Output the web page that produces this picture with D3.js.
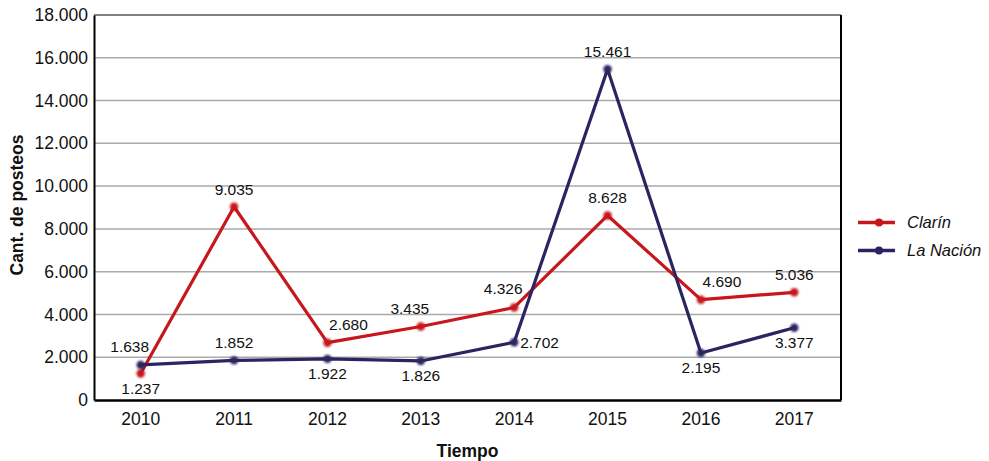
<!DOCTYPE html>
<html>
<head>
<meta charset="utf-8">
<script src="https://cdn.jsdelivr.net/npm/d3@7"></script>
<style>
  html, body { margin: 0; padding: 0; background: #fff; }
  svg { display: block; font-family: "Liberation Sans", Arial, sans-serif; }
</style>
</head>
<body>
<svg id="chart" width="989" height="461"></svg>
<script>
// Posts per year for each newspaper
const years = ["2010", "2011", "2012", "2013", "2014", "2015", "2016", "2017"];
const clarin = [1237, 9035, 2680, 3435, 4326, 8628, 4690, 5036];
const laNacion = [1638, 1852, 1922, 1826, 2702, 15461, 2195, 3377];
const yTicks = [0, 2000, 4000, 6000, 8000, 10000, 12000, 14000, 16000, 18000];
// Label placement codes: "a" above, "al"/"ar" above shifted left/right, "b" below, "r" right
const clarinLabelPos = ["b", "a", "ar", "al", "al", "a", "ar", "a"];
const laNacionLabelPos = ["al", "a", "b", "b", "r", "a", "b", "b"];

const series = [
  { name: "Clarín", values: clarin, pos: clarinLabelPos, color: "#c8161d" },
  { name: "La Nación", values: laNacion, pos: laNacionLabelPos, color: "#2a2560" }
];

const svg = d3.select("#chart");
const margin = { left: 94, right: 148, top: 15, bottom: 61 };
const W = 989, H = 461;

const x = d3.scaleBand().domain(years).range([margin.left, W - margin.right]);
const y = d3.scaleLinear().domain([0, 18000]).range([H - margin.bottom, margin.top]);
const cx = d => x(d) + x.bandwidth() / 2;

const fmt = v => d3.format(",")(v).replace(/,/g, ".");

// label offsets for each placement code
const labelOffset = {
  a:  { dx: 0,   dy: -12, anchor: "middle" },
  al: { dx: -11, dy: -13, anchor: "middle" },
  ar: { dx: 21,  dy: -13, anchor: "middle" },
  b:  { dx: 0,   dy: 20,  anchor: "middle" },
  r:  { dx: 6,   dy: 5.5, anchor: "start" }
};

// blur for the soft point markers
const defs = svg.append("defs");
defs.append("filter").attr("id", "soft").attr("x", "-100%").attr("y", "-100%")
  .attr("width", "300%").attr("height", "300%")
  .append("feGaussianBlur").attr("stdDeviation", 1.3);

// Horizontal gridlines
svg.append("g").selectAll("line").data(yTicks.filter(t => t > 0)).join("line")
  .attr("x1", margin.left).attr("x2", W - margin.right)
  .attr("y1", d => y(d)).attr("y2", d => y(d))
  .attr("stroke", d => d === 18000 ? "#808080" : "#aaaaaa")
  .attr("stroke-width", d => d === 18000 ? 2 : 1.5);

// Right border
svg.append("line")
  .attr("x1", W - margin.right).attr("x2", W - margin.right)
  .attr("y1", margin.top).attr("y2", H - margin.bottom)
  .attr("stroke", "#000").attr("stroke-width", 2);

// Y axis
const yAxis = svg.append("g")
  .attr("transform", `translate(${margin.left},0)`)
  .call(d3.axisLeft(y).tickValues(yTicks).tickFormat(fmt).tickSize(0).tickPadding(6));
yAxis.select(".domain").attr("stroke", "#000").attr("stroke-width", 2);
yAxis.selectAll("text").attr("font-size", 17.5).attr("fill", "#111")
  .attr("font-family", "Liberation Sans, Arial, sans-serif");

// X axis
const xAxis = svg.append("g")
  .attr("transform", `translate(0,${H - margin.bottom})`)
  .call(d3.axisBottom(x).tickSize(0).tickPadding(0));
xAxis.select(".domain").attr("stroke", "#000").attr("stroke-width", 2.5);
xAxis.selectAll("text").attr("font-size", 17.5).attr("fill", "#111")
  .attr("font-family", "Liberation Sans, Arial, sans-serif")
  .attr("dy", null).attr("y", 25);

// Axis titles
svg.append("text").attr("x", (margin.left + W - margin.right) / 2).attr("y", 457)
  .attr("text-anchor", "middle").attr("font-weight", "bold").attr("font-size", 17.5)
  .attr("fill", "#111").text("Tiempo");
svg.append("text").attr("transform", "translate(23,205) rotate(-90)")
  .attr("text-anchor", "middle").attr("font-weight", "bold").attr("font-size", 17.5)
  .attr("fill", "#111").text("Cant. de posteos");

// Lines, markers and value labels
const line = d3.line().x((d, i) => cx(years[i])).y(d => y(d));

series.forEach(s => {
  const g = svg.append("g");
  g.append("path").datum(s.values).attr("d", line)
    .attr("fill", "none").attr("stroke", s.color).attr("stroke-width", 3.2)
    .attr("stroke-linejoin", "round");
  g.selectAll("circle").data(s.values).join("circle")
    .attr("cx", (d, i) => cx(years[i])).attr("cy", d => y(d))
    .attr("r", 4.2).attr("fill", s.color).attr("filter", "url(#soft)");
  g.selectAll("text").data(s.values).join("text")
    .attr("x", (d, i) => cx(years[i]) + labelOffset[s.pos[i]].dx)
    .attr("y", (d, i) => y(d) + labelOffset[s.pos[i]].dy)
    .attr("text-anchor", (d, i) => labelOffset[s.pos[i]].anchor)
    .attr("font-size", 15.5).attr("fill", "#111").text(d => fmt(d));
});

// Legend
const legend = svg.append("g");
series.forEach((s, i) => {
  const ly = 222.5 + i * 28;
  legend.append("line").attr("x1", 858).attr("x2", 895).attr("y1", ly).attr("y2", ly)
    .attr("stroke", s.color).attr("stroke-width", 3.5);
  legend.append("circle").attr("cx", 879).attr("cy", ly).attr("r", 4).attr("fill", s.color);
  legend.append("text").attr("x", 907).attr("y", ly + 5.5).attr("font-size", 16.5)
    .attr("font-style", "italic").attr("fill", "#111").text(s.name);
});
</script>
</body>
</html>
